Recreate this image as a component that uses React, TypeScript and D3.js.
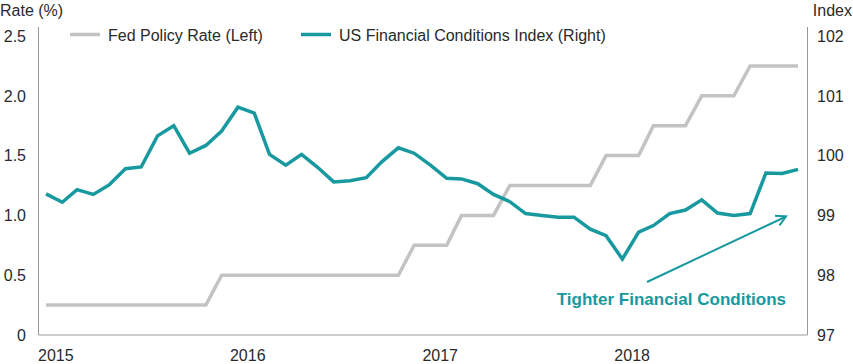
import React, { useEffect, useRef } from "react";
import * as d3 from "d3";

// monthly, Jan 2015 - Dec 2018
const startMonth = new Date(2015, 0, 1);
const fedRate = [
  0.25, 0.25, 0.25, 0.25, 0.25, 0.25, 0.25, 0.25, 0.25, 0.25, 0.25, 0.5,
  0.5, 0.5, 0.5, 0.5, 0.5, 0.5, 0.5, 0.5, 0.5, 0.5, 0.5, 0.75,
  0.75, 0.75, 1.0, 1.0, 1.0, 1.25, 1.25, 1.25, 1.25, 1.25, 1.25, 1.5,
  1.5, 1.5, 1.75, 1.75, 1.75, 2.0, 2.0, 2.0, 2.25, 2.25, 2.25, 2.25,
];
const fci = [
  99.36, 99.22, 99.43, 99.35, 99.51, 99.78, 99.81, 100.33, 100.5, 100.04, 100.17, 100.41,
  100.81, 100.71, 100.02, 99.84, 100.02, 99.8, 99.56, 99.58, 99.63, 99.9, 100.13, 100.04,
  99.84, 99.62, 99.61, 99.53, 99.35, 99.23, 99.03, 99.0, 98.97, 98.97, 98.77, 98.66,
  98.27, 98.72, 98.83, 99.03, 99.09, 99.26, 99.04, 99.0, 99.03, 99.71, 99.7, 99.77,
];
const leftTicks = [0, 0.5, 1.0, 1.5, 2.0, 2.5];
const rightTicks = [97, 98, 99, 100, 101, 102];
const yearTicks = [2015, 2016, 2017, 2018];

const TEAL = "#17999f";
const GREY = "#c3c3c3";
const AXIS = "#9a9a9a";
const TEXT = "#2a2a2a";
const FONT = "'Liberation Sans', Arial, sans-serif";

const App = () => {
  const svgRef = useRef<SVGSVGElement>(null);

  useEffect(() => {
    const svg = d3.select(svgRef.current);
    svg.selectAll("*").remove();

    const dates = fedRate.map((_, i) => d3.timeMonth.offset(startMonth, i));

    const x = d3
      .scaleTime()
      .domain([dates[0], dates[dates.length - 1]])
      .range([46, 798]);
    const yL = d3.scaleLinear().domain([0, 2.5]).range([335, 36]);
    const yR = d3.scaleLinear().domain([97, 102]).range([335, 36]);

    const left = 38.5;
    const right = 807.5;
    const top = 27;
    const bottom = 335;

    // frame
    svg.append("path")
      .attr("d", `M${left},${top}V${bottom}H${right}V${top}`)
      .attr("fill", "none")
      .attr("stroke", AXIS)
      .attr("stroke-width", 1);

    // axis titles
    svg.append("text")
      .attr("x", 0)
      .attr("y", 16)
      .attr("font-family", FONT)
      .attr("font-size", 16)
      .attr("fill", TEXT)
      .text("Rate (%)");
    svg.append("text")
      .attr("x", 852)
      .attr("y", 16)
      .attr("text-anchor", "end")
      .attr("font-family", FONT)
      .attr("font-size", 16)
      .attr("fill", TEXT)
      .text("Index");

    // left ticks
    svg.append("g")
      .selectAll("text")
      .data(leftTicks)
      .enter().append("text")
      .attr("x", 26)
      .attr("y", (d) => yL(d))
      .attr("dy", "0.36em")
      .attr("text-anchor", "end")
      .attr("font-family", FONT)
      .attr("font-size", 16)
      .attr("fill", TEXT)
      .text((d) => (d === 0 ? "0" : d.toFixed(1)));

    // right ticks
    svg.append("g")
      .selectAll("text")
      .data(rightTicks)
      .enter().append("text")
      .attr("x", 817)
      .attr("y", (d) => yR(d))
      .attr("dy", "0.36em")
      .attr("font-family", FONT)
      .attr("font-size", 16)
      .attr("fill", TEXT)
      .text((d) => d);

    // year labels
    svg.append("g")
      .selectAll("text")
      .data(yearTicks)
      .enter().append("text")
      .attr("x", (d) => x(new Date(d, 0, 1)) - 8)
      .attr("y", 361)
      .attr("font-family", FONT)
      .attr("font-size", 16)
      .attr("fill", TEXT)
      .text((d) => d);

    // lines
    const fedLine = d3.line<number>()
      .x((_, i) => x(dates[i]))
      .y((d) => yL(d));
    const fciLine = d3.line<number>()
      .x((_, i) => x(dates[i]))
      .y((d) => yR(d));

    svg.append("path")
      .attr("d", fedLine(fedRate))
      .attr("fill", "none")
      .attr("stroke", GREY)
      .attr("stroke-width", 3.5);

    svg.append("path")
      .attr("d", fciLine(fci))
      .attr("fill", "none")
      .attr("stroke", TEAL)
      .attr("stroke-width", 3.5)
      .attr("stroke-linejoin", "miter");

    // legend
    const legend = [
      { label: "Fed Policy Rate (Left)", color: GREY, x: 70 },
      { label: "US Financial Conditions Index (Right)", color: TEAL, x: 301 },
    ];
    const lg = svg.append("g");
    legend.forEach((l) => {
      lg.append("line")
        .attr("x1", l.x)
        .attr("x2", l.x + 30)
        .attr("y1", 34.5)
        .attr("y2", 34.5)
        .attr("stroke", l.color)
        .attr("stroke-width", 3.5);
      lg.append("text")
        .attr("x", l.x + 38)
        .attr("y", 35)
        .attr("dy", "0.36em")
        .attr("font-family", FONT)
        .attr("font-size", 16)
        .attr("fill", TEXT)
        .text(l.label);
    });

    // annotation arrow
    const x1 = 647, y1 = 282, x2 = 786, y2 = 216.5;
    const ang = Math.atan2(y2 - y1, x2 - x1);
    const head = 11;
    const spread = 0.5;
    svg.append("line")
      .attr("x1", x1).attr("y1", y1)
      .attr("x2", x2).attr("y2", y2)
      .attr("stroke", TEAL)
      .attr("stroke-width", 2);
    svg.append("path")
      .attr("d",
        `M${x2 - head * Math.cos(ang - spread)},${y2 - head * Math.sin(ang - spread)}` +
        `L${x2},${y2}` +
        `L${x2 - head * Math.cos(ang + spread)},${y2 - head * Math.sin(ang + spread)}`)
      .attr("fill", "none")
      .attr("stroke", TEAL)
      .attr("stroke-width", 2);

    svg.append("text")
      .attr("x", 786)
      .attr("y", 305)
      .attr("text-anchor", "end")
      .attr("font-family", FONT)
      .attr("font-size", 17)
      .attr("font-weight", "bold")
      .attr("fill", TEAL)
      .text("Tighter Financial Conditions");
  }, []);

  return (
    <svg
      ref={svgRef}
      width={853}
      height={364}
      style={{ position: "absolute", left: 0, top: 0, background: "#fff" }}
    />
  );
};

export default App;
